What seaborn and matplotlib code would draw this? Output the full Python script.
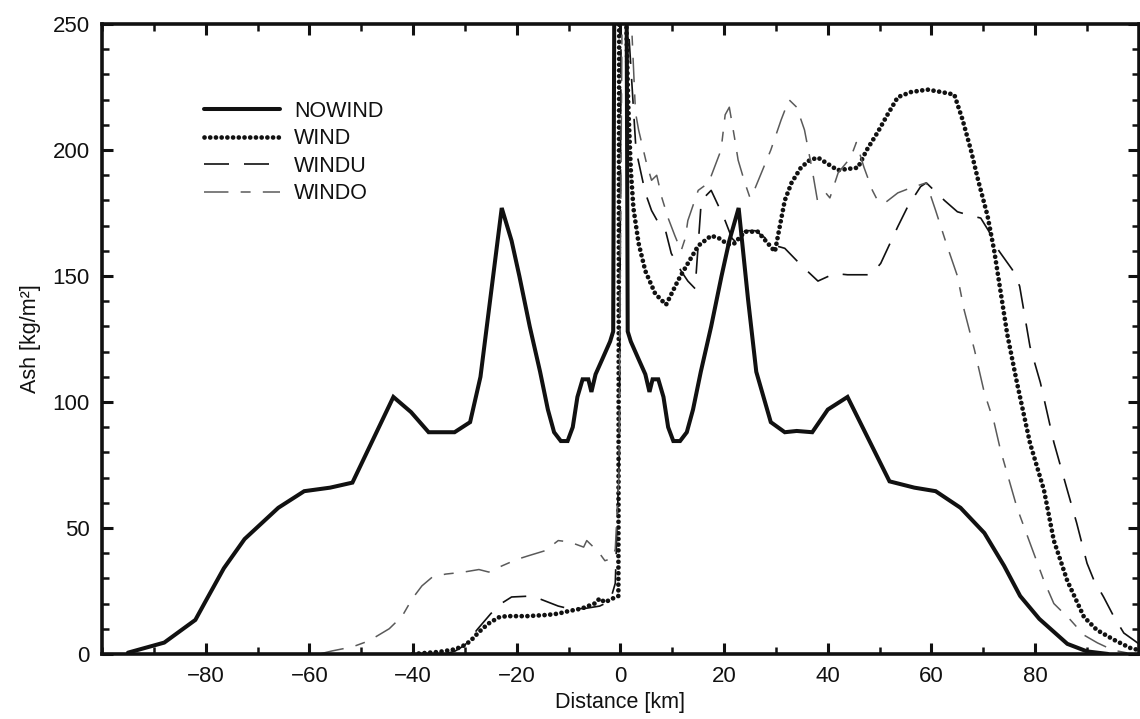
import matplotlib
matplotlib.use("Agg")
import matplotlib.pyplot as plt
from matplotlib.ticker import MultipleLocator
import seaborn as sns
import pandas as pd

# ---------------- data ----------------
nowind_x = [-95, -88, -82, -80, -76.5, -72.5, -66, -61, -56, -51.7, -43.8, -40.4, -37, -32, -29, -27,
            -22.9, -21, -19.5, -17.5, -15.5, -14, -12.8, -11.5, -10.2, -9.2, -8.3, -7.3, -6.2, -5.6,
            -4.8, -3.5, -2, -1.4, 0, 1.4, 2, 3.5, 4.8, 5.6, 6.2, 7.3, 8.3, 9.2, 10.2, 11.5, 12.8, 14,
            15.5, 17.5, 19.5, 21, 22.8, 24.6, 26.2, 29, 31.7, 34, 37, 40, 43.8, 51.9, 56.7, 60.8, 65.6,
            70.2, 74, 77.1, 80.8, 86.2, 90, 94]
nowind_y = [0.5, 4.5, 13.5, 21, 34, 45.6, 58, 64.6, 66, 68, 102, 96, 88, 88, 92, 110,
            177, 164, 150, 130, 112, 97, 88, 84.5, 84.5, 90, 102, 109, 109, 104,
            111, 117, 124, 128, 1000, 128, 124, 117, 111, 104, 109, 109, 102, 90, 84.5, 84.5, 88, 97,
            112, 130, 150, 164, 177, 141, 112, 92, 88, 88.5, 88, 97, 102, 68.5, 66, 64.6, 58,
            48, 35, 23, 13.9, 4, 1, 0]

wind_x = [-40, -35, -32, -30.5, -29, -27.3, -25.5, -23.5, -22, -18, -14, -12, -10, -7.5, -5, -4, -3,
          -1.5, -0.4, 0, 1, 1.5, 2, 2.5, 3.5, 4.8, 6.7, 8.8, 11.2, 13, 15, 17.5, 19, 20.8, 22, 24,
          26.5, 28, 29.8, 31.7, 33, 34.8, 36.5, 38.1, 40, 41.9, 43.8, 45.8, 47.5, 49.6, 51.5, 53.5,
          56, 59.2, 62, 64.4, 66, 67.6, 69, 70.8, 72.1, 74.6, 76.5, 79, 81.7, 83.6, 86.2, 89.4, 91.9,
          95.2, 98.3, 100]
wind_y = [0, 0.8, 1.8, 3, 5, 8.7, 12, 14.5, 15, 15, 15.5, 16, 17, 18, 20, 22, 20.5,
          22, 23, 600, 262, 218, 192, 177, 163, 152, 143, 138.6, 148.6, 155, 162, 166, 165, 162.5, 163, 167.6,
          167.6, 164, 159.7, 180, 187, 193, 196, 197, 194.5, 192, 192.5, 193, 200, 207, 214, 221,
          223, 224, 223, 222, 212, 200, 188, 174, 160, 127, 107.5, 83.7, 65, 45, 29, 14.7, 9.5,
          5.6, 2.4, 1.5]

windu_x = [-34, -32, -30, -27.5, -25, -23, -21, -17, -14.5, -12, -10, -7, -4, -2, -1, -0.2, 0.6, 1.5,
           3, 4.8, 6, 7.9, 8.7, 9.8, 11.7, 13, 14.4, 15.6, 17.5, 20, 21.5, 22.5, 24, 26, 28, 30, 31.7,
           35, 38.1, 41.3, 43.8, 48.3, 50.2, 53.5, 55.4, 57.9, 59, 62.5, 65, 67.5, 69.5, 71, 73, 75.6,
           77, 79, 81, 83.6, 86.2, 88, 90, 91.3, 93.2, 95.2, 97.1, 99, 100]
windu_y = [0, 1, 3.5, 10, 16, 20, 22.6, 23, 21, 19, 18, 18, 19, 21, 28, 80, 500, 250,
           200, 183, 176, 169, 168, 159, 152, 148, 145, 180, 184, 173, 165, 163, 168, 168, 165, 162, 161,
           154, 148, 151, 150.5, 150.5, 155, 169.6, 177.5, 185.5, 187, 180, 175.5, 174, 173, 168, 160, 152.5,
           146, 122, 107.7, 84, 65, 52, 36, 29.4, 22.6, 14.7, 8.3, 5.5, 4]

windo_x = [-58, -55.6, -51.7, -48.5, -44.6, -42.1, -40.2, -38.3, -36.3, -33.7, -30.5, -27.3, -25.4,
           -22.8, -20, -17.7, -14.5, -12, -10, -8.7, -7.1, -6.5, -5.5, -4.2, -3, -1.5, -1, -0.3, 0.8,
           2.1, 2.9, 3.5, 5, 6, 7, 8, 9.2, 10.5, 11.7, 12.5, 13, 15, 17, 19.4, 20.2, 21, 22, 22.7, 24,
           25, 26, 27, 29, 31, 32.5, 34, 35.5, 37, 38, 39.6, 40.4, 42, 44.4, 45.5, 47, 48.6, 49.6, 51,
           53.5, 56, 59, 60.8, 63, 65, 66.3, 68.3, 70.2, 72.1, 73.3, 76.5, 79, 81.7, 83.6, 86.8, 89.4,
           92, 95, 98]
windo_y = [0, 1.2, 2.8, 5.2, 10, 15, 21.8, 27, 30.5, 31.7, 32.4, 33.5, 32.5,
           35, 37.5, 39, 41, 45, 44.5, 43.6, 42.4, 45, 43, 40.4, 37, 38, 41.6, 70, 400,
           252, 215, 208, 195, 188, 190, 181, 173, 166, 160, 165, 172, 184, 187, 200, 214, 217, 205, 196, 187,
           181, 185, 190, 200, 212, 220, 217, 208, 192, 180, 183, 181, 191, 197, 203, 193, 184, 180, 179,
           183, 185, 187, 176, 162, 150, 136.5, 120.6, 103.6, 91.7, 81, 58, 44, 29, 20, 13.5, 7.5,
           4.4, 1.5, 0.3]

series_names = ["NOWIND", "WIND", "WINDU", "WINDO"]
x_ticks = [-80, -60, -40, -20, 0, 20, 40, 60, 80]
y_ticks = [0, 50, 100, 150, 200, 250]

# ---------------- figure ----------------
sns.set_theme(style="ticks")
plt.rcParams["font.family"] = ["Liberation Sans", "DejaVu Sans"]

fig = plt.figure(figsize=(11.4, 7.19), dpi=100)
ax = fig.add_axes([0.0895, 0.0905, 0.9095, 0.876])

sns.lineplot(x=nowind_x, y=nowind_y, ax=ax, color="#111111", lw=2.9, sort=False,
             estimator=None, label=series_names[0], solid_joinstyle="miter")
sns.lineplot(x=wind_x, y=wind_y, ax=ax, color="#111111", lw=3.4, sort=False, estimator=None,
             label=series_names[1], linestyle=(0, (0.01, 1.2)), dash_capstyle="round")
sns.lineplot(x=windu_x, y=windu_y, ax=ax, color="#111111", lw=1.2, sort=False, estimator=None,
             label=series_names[2], linestyle=(0, (15, 9)))
sns.lineplot(x=windo_x, y=windo_y, ax=ax, color="#5a5a5a", lw=1.1, sort=False, estimator=None,
             label=series_names[3], linestyle=(0, (16, 8, 6.5, 8)))

ax.set_xlim(-100, 100)
ax.set_ylim(0, 250)
ax.set_xticks(x_ticks)
ax.set_yticks(y_ticks)
ax.xaxis.set_minor_locator(MultipleLocator(10))
ax.yaxis.set_minor_locator(MultipleLocator(10))
ax.tick_params(which="major", direction="in", top=True, right=True, length=8, width=2.2,
               labelsize=16, pad=9, colors="#111111")
ax.tick_params(which="minor", direction="in", top=True, right=True, length=5, width=1.8,
               colors="#111111")
for s in ax.spines.values():
    s.set_linewidth(2.6)
    s.set_color("#111111")

ax.set_xlabel("Distance [km]", fontsize=15.5, labelpad=3, color="#111111")
ax.set_ylabel("Ash [kg/m²]", fontsize=15.5, labelpad=8, color="#111111")

leg = ax.legend(loc="upper left", bbox_to_anchor=(0.098, 0.878), frameon=False, fontsize=15.5,
                handlelength=3.55, handletextpad=0.65, labelspacing=0.3, borderpad=0,
                borderaxespad=0)
for t in leg.get_texts():
    t.set_color("#111111")

fig.savefig("out.png", dpi=100)
